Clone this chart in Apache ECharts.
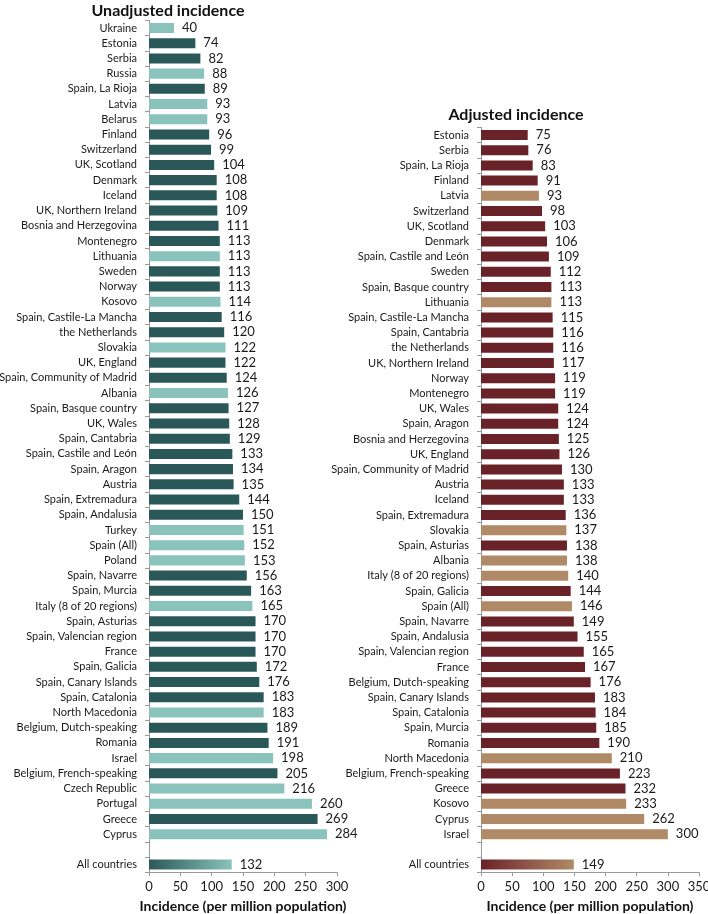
<!DOCTYPE html>
<html>
<head>
<meta charset="utf-8">
<script src="https://cdn.jsdelivr.net/npm/echarts@6/dist/echarts.min.js"></script>
<style>html,body{margin:0;padding:0;background:#fff;}#c{width:708px;height:914px;}</style>
</head>
<body>
<div id="c"></div>
<script>
// Unadjusted incidence
const leftCategories = ["Ukraine","Estonia","Serbia","Russia","Spain, La Rioja","Latvia","Belarus","Finland","Switzerland","UK, Scotland","Denmark","Iceland","UK, Northern Ireland","Bosnia and Herzegovina","Montenegro","Lithuania","Sweden","Norway","Kosovo","Spain, Castile-La Mancha","the Netherlands","Slovakia","UK, England","Spain, Community of Madrid","Albania","Spain, Basque country","UK, Wales","Spain, Cantabria","Spain, Castile and León","Spain, Aragon","Austria","Spain, Extremadura","Spain, Andalusia","Turkey","Spain (All)","Poland","Spain, Navarre","Spain, Murcia","Italy (8 of 20 regions)","Spain, Asturias","Spain, Valencian region","France","Spain, Galicia","Spain, Canary Islands","Spain, Catalonia","North Macedonia","Belgium, Dutch-speaking","Romania","Israel","Belgium, French-speaking","Czech Republic","Portugal","Greece","Cyprus"];
const leftValues = [40,74,82,88,89,93,93,96,99,104,108,108,109,111,113,113,113,113,114,116,120,122,122,124,126,127,128,129,133,134,135,144,150,151,152,153,156,163,165,170,170,170,172,176,183,183,189,191,198,205,216,260,269,284];
// 1 = lighter group, 0 = darker group
const leftGroup = [1,0,0,1,0,1,1,0,0,0,0,0,0,0,0,1,0,0,1,0,0,1,0,0,1,0,0,0,0,0,0,0,0,1,1,1,0,0,1,0,0,0,0,0,0,1,0,0,1,0,1,1,0,1];
const leftAllLabel = "All countries";
const leftAllValue = 132;

// Adjusted incidence
const rightCategories = ["Estonia","Serbia","Spain, La Rioja","Finland","Latvia","Switzerland","UK, Scotland","Denmark","Spain, Castile and León","Sweden","Spain, Basque country","Lithuania","Spain, Castile-La Mancha","Spain, Cantabria","the Netherlands","UK, Northern Ireland","Norway","Montenegro","UK, Wales","Spain, Aragon","Bosnia and Herzegovina","UK, England","Spain, Community of Madrid","Austria","Iceland","Spain, Extremadura","Slovakia","Spain, Asturias","Albania","Italy (8 of 20 regions)","Spain, Galicia","Spain (All)","Spain, Navarre","Spain, Andalusia","Spain, Valencian region","France","Belgium, Dutch-speaking","Spain, Canary Islands","Spain, Catalonia","Spain, Murcia","Romania","North Macedonia","Belgium, French-speaking","Greece","Kosovo","Cyprus","Israel"];
const rightValues = [75,76,83,91,93,98,103,106,109,112,113,113,115,116,116,117,119,119,124,124,125,126,130,133,133,136,137,138,138,140,144,146,149,155,165,167,176,183,184,185,190,210,223,232,233,262,300];
const rightGroup = [0,0,0,0,1,0,0,0,0,0,0,1,0,0,0,0,0,0,0,0,0,0,0,0,0,0,1,0,1,1,0,1,0,0,0,0,0,0,0,0,0,1,0,0,1,1,1];
const rightAllLabel = "All countries";
const rightAllValue = 149;

const leftTicks = [0,50,100,150,200,250,300];
const rightTicks = [0,50,100,150,200,250,300,350];

const C = {
  lDark: '#2a5858', lLight: '#89c3bb',
  rDark: '#6a2229', rLight: '#b08a66'
};

function buildData(vals, groups, allVal, dark, light) {
  const d = vals.map((v, i) => ({ value: v, itemStyle: { color: groups[i] ? light : dark } }));
  d.push({ value: null, label: { show: false } });
  d.push({
    value: allVal,
    itemStyle: {
      color: new echarts.graphic.LinearGradient(0, 0, 1, 0, [
        { offset: 0, color: dark }, { offset: 1, color: light }
      ])
    }
  });
  return d;
}

const chart = echarts.init(document.getElementById('c'), null, { renderer: 'canvas' });
const font = 'Lato, "Noto Sans", sans-serif';
const catFont = { fontFamily: font, fontSize: 11, color: '#1a1a1a' };

function yAxis(idx, cats, allLabel) {
  return {
    type: 'category', gridIndex: idx, inverse: true,
    data: cats.concat(['', allLabel]),
    axisLine: { lineStyle: { color: '#999' } },
    axisTick: { show: true, length: 4, lineStyle: { color: '#999' } },
    axisLabel: Object.assign({ margin: 12, interval: 0 }, catFont)
  };
}
function xAxis(idx, ticks) {
  return {
    type: 'value', gridIndex: idx, min: ticks[0], max: ticks[ticks.length - 1], interval: ticks[1] - ticks[0],
    splitLine: { show: false },
    axisLine: { show: true, lineStyle: { color: '#999' } },
    axisTick: { show: true, length: 4, lineStyle: { color: '#999' } },
    axisLabel: { fontFamily: font, fontSize: 13, color: '#1a1a1a', margin: 8 },
    name: 'Incidence (per million population)',
    nameLocation: 'middle', nameGap: 27,
    nameTextStyle: { fontFamily: font, fontSize: 14, fontWeight: 'bold', color: '#111' }
  };
}
const labelStyle = { show: true, position: 'right', distance: 8, fontFamily: font, fontSize: 13, color: '#1a1a1a' };

chart.setOption({
  animation: false,
  title: [
    { text: 'Unadjusted incidence', left: 163, top: -2, textAlign: 'center',
      textStyle: { fontFamily: font, fontSize: 16, fontWeight: 'bold', color: '#111' } },
    { text: 'Adjusted incidence', left: 511, top: 102, textAlign: 'center',
      textStyle: { fontFamily: font, fontSize: 16, fontWeight: 'bold', color: '#111' } }
  ],
  grid: [
    { left: 149, top: 20.4, width: 188, height: 851.8, outerBoundsMode: 'none', containLabel: false },
    { left: 481, top: 127.4, width: 218, height: 744.8, outerBoundsMode: 'none', containLabel: false }
  ],
  xAxis: [xAxis(0, leftTicks), xAxis(1, rightTicks)],
  yAxis: [yAxis(0, leftCategories, leftAllLabel), yAxis(1, rightCategories, rightAllLabel)],
  series: [
    { type: 'bar', xAxisIndex: 0, yAxisIndex: 0, barWidth: '66%',
      data: buildData(leftValues, leftGroup, leftAllValue, C.lDark, C.lLight), label: labelStyle },
    { type: 'bar', xAxisIndex: 1, yAxisIndex: 1, barWidth: '66%',
      data: buildData(rightValues, rightGroup, rightAllValue, C.rDark, C.rLight), label: labelStyle }
  ]
});
</script>
</body>
</html>
